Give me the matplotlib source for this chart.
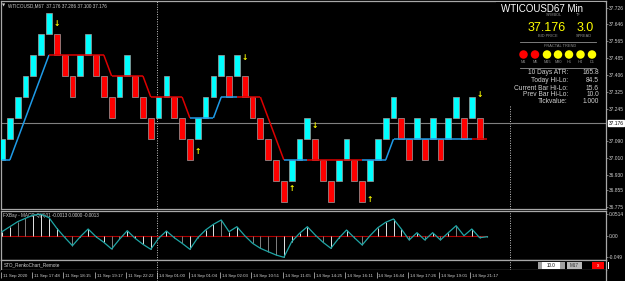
import matplotlib
matplotlib.use('Agg')
import matplotlib.pyplot as plt
from matplotlib.collections import LineCollection
from matplotlib.patches import Rectangle, Ellipse
import matplotlib.transforms as mtrans
import numpy as np

# ---------------- data ----------------
brick_low = [37.0, 37.1, 37.2, 37.3, 37.4, 37.5, 37.6, 37.5, 37.4, 37.3,
             37.4, 37.5, 37.4, 37.3, 37.2, 37.3, 37.4, 37.3, 37.2, 37.1,
             37.2, 37.3, 37.2, 37.1, 37.0, 37.1, 37.2, 37.3, 37.4, 37.3,
             37.4, 37.3, 37.2, 37.1, 37.0, 36.9, 36.8, 36.9, 37.0, 37.1,
             37.0, 36.9, 36.8, 36.9, 37.0, 36.9, 36.8, 36.9, 37.0, 37.1,
             37.2, 37.1, 37.0, 37.1, 37.0, 37.1, 37.0, 37.1, 37.2, 37.1,
             37.2, 37.1]
brick_up = [1, 1, 1, 1, 1, 1, 1, 0, 0, 0,
            1, 1, 0, 0, 0, 1, 1, 0, 0, 0,
            1, 1, 0, 0, 0, 1, 1, 1, 1, 0,
            1, 0, 0, 0, 0, 0, 0, 1, 1, 1,
            0, 0, 0, 1, 1, 0, 0, 1, 1, 1,
            1, 0, 0, 1, 0, 1, 0, 1, 1, 0,
            1, 0]
box_size = 0.1

trail = [37.0, 37.0, 37.1, 37.2, 37.3, 37.4,
         37.5, 37.5, 37.5, 37.5, 37.5, 37.5, 37.5, 37.5,
         37.4, 37.4, 37.4, 37.4, 37.4,
         37.3, 37.3, 37.3, 37.3, 37.3,
         37.2, 37.2, 37.2, 37.2,
         37.3, 37.3, 37.3, 37.3, 37.3, 37.3,
         37.2, 37.1,
         37.0, 37.0, 37.0, 37.0, 37.0, 37.0, 37.0, 37.0, 37.0, 37.0, 37.0, 37.0, 37.0, 37.0,
         37.1, 37.1, 37.1, 37.1, 37.1, 37.1, 37.1, 37.1, 37.1, 37.1, 37.1, 37.1, 37.1]
trail_up = [1] * 6 + [0] * 18 + [1] * 6 + [0] * 6 + [1] * 3 + [0] * 7 + [1] * 14 + [0] * 2

arrow_cols = [7, 25, 31, 37, 40, 47, 61]
arrow_price = [37.648, 37.04, 37.49, 36.862, 37.162, 36.814, 37.31]
arrow_down = [1, 0, 1, 0, 1, 0, 1]

macd = [0.0099, 0.0214, 0.0329, 0.0407, 0.0483, 0.0499, 0.0421, 0.0177, -0.0030, -0.0223,
        -0.0016, 0.0161, -0.0016, -0.0145, -0.0299, -0.0076, 0.0122, -0.0053, -0.0191, -0.0306,
        -0.0053, 0.0115, -0.0039, -0.0168, -0.0306, -0.0039, 0.0138, 0.0269, 0.0368, 0.0099,
        0.0214, 0.0007, -0.0168, -0.0283, -0.0361, -0.0437, -0.0490, -0.0131, 0.0062, 0.0214,
        0.0023, -0.0145, -0.0283, -0.0053, 0.0138, -0.0039, -0.0207, 0.0007, 0.0191, 0.0315,
        0.0391, 0.0161, -0.0092, 0.0076, -0.0092, 0.0076, -0.0092, 0.0076, 0.0237, 0.0007,
        0.0161, -0.0039, -0.0016]
hist_light = [1, 1, 0, 0, 1, 1, 1, 1, 0, 0,
              1, 1, 1, 1, 0, 0, 1, 1, 1, 1,
              0, 1, 0, 0, 1, 0, 1, 1, 0, 1,
              1, 0, 0, 0, 0, 0, 1, 1, 1, 1,
              0, 0, 1, 1, 1, 0, 0, 1, 1, 1,
              1, 1, 0, 1, 0, 1, 0, 1, 0, 1,
              1, 0, 0]

price_ticks = [37.726, 37.646, 37.565, 37.485, 37.406, 37.325, 37.245,
               37.090, 37.010, 36.930, 36.855, 36.775]
price_tick_labels = ['37.726', '37.646', '37.565', '37.485', '37.406', '37.325', '37.245',
                     '37.090', '37.010', '36.930', '36.855', '36.775']
last_price = 37.176
macd_ticks = [0.0514, 0.0, -0.049]
macd_tick_labels = ['0.0514', '0.00', '-0.049']

time_tick_cols = [0, 4, 8, 12, 16, 20, 24, 28, 32, 36, 40, 44, 48, 52, 56, 60]
time_labels = ['11 Sep 2020', '11 Sep 17:48', '11 Sep 18:15', '11 Sep 19:17', '11 Sep 22:22',
               '14 Sep 01:00', '14 Sep 01:04', '14 Sep 02:03', '14 Sep 10:51', '14 Sep 11:05',
               '14 Sep 14:25', '14 Sep 16:11', '14 Sep 16:44', '14 Sep 17:26', '14 Sep 19:01',
               '14 Sep 21:17']
separator_cols = [20, 65]

tf_names = ['M1', 'M5', 'M15', 'M30', 'H1', 'H4', 'D1']
tf_trend_up = [0, 0, 1, 1, 1, 1, 1]
info_labels = ['10 Days ATR:', 'Today Hi-Lo:', 'Current Bar Hi-Lo:', 'Prev Bar Hi-Lo:', 'Tickvalue:']
info_values = ['165.8', '84.5', '15.6', '10.0', '1.000']

# ---------------- layout ----------------
W, H = 625, 281
fig = plt.figure(figsize=(6.25, 2.81), dpi=100, facecolor='black')

plt.rcParams['font.family'] = ['Liberation Sans', 'DejaVu Sans']


def fx(px):
    return px / W


def fy(py):
    return 1 - py / H


def add_ax(l, t, r, b):
    return fig.add_axes([fx(l), fy(b), fx(r) - fx(l), fy(t) - fy(b)])


COL = 7.83
X0 = (1 - 2) / COL
X1 = (606 - 2) / COL
FRAME = '#a8a8a8'
TXT = '#d0d0d0'
FS = 3.3
FSA = 3.5

ax = add_ax(1, 1, 606, 209)
axm = add_ax(1, 211, 606, 260)
axs = add_ax(1, 260, 606, 270)
axt = add_ax(1, 270, 606, 281)

for a in (ax, axm, axs, axt):
    a.set_facecolor('black')
    a.set_xlim(X0, X1)
    a.set_xticks([])
    for s in a.spines.values():
        s.set_color(FRAME)
        s.set_linewidth(0.9)
axt.spines['left'].set_visible(False)
axt.spines['bottom'].set_visible(False)
axt.spines['top'].set_visible(False)
axt.set_ylim(0, 1)
axt.set_yticks([])
axs.set_yticks([])

# ---- main renko chart ----
n = np.arange(len(brick_low))
colors = ['#00ffff' if u else '#ff0000' for u in brick_up]
ax.bar(n, box_size, bottom=brick_low, width=0.74, color=colors,
       edgecolor='#a0a0a0', linewidth=0.5, zorder=3)
ax.set_ylim(37.2 - 91 / 210, 37.2 + 117 / 210)

tn = np.arange(len(trail))
pts = np.column_stack([tn, trail])
segs = [pts[i:i + 2] for i in range(len(trail) - 1)]
segcol = ['#1e9be8' if u else '#dd0000' for u in trail_up]
ax.add_collection(LineCollection(segs, colors=segcol, linewidths=1.1, zorder=4))

ax.axhline(last_price, color='#808080', lw=0.8, zorder=2)
for c in separator_cols:
    for a in (ax, axm, axs):
        a.axvline(c - 0.17, color='#c8c8c8', ls=(0, (1, 1.5)), lw=0.7, zorder=1)
axt.axvline(separator_cols[0] - 0.17, color='#c8c8c8', ls=(0, (1, 1.5)), lw=0.7)

for c, p, d in zip(arrow_cols, arrow_price, arrow_down):
    ax.text(c, p, '↓' if d else '↑', color='#ffff00', fontsize=5.5, fontweight='bold',
            ha='center', va='center', zorder=5, family='DejaVu Sans')

ax.yaxis.tick_right()
ax.set_yticks(price_ticks)
ax.set_yticklabels(price_tick_labels)
ax.tick_params(axis='y', colors=FRAME, labelcolor=TXT, labelsize=FSA, length=1.5, width=0.5, pad=0.6)
blend = mtrans.blended_transform_factory(ax.transAxes, ax.transData)
ax.text(1.004, last_price, '37.176', transform=blend, fontsize=FSA, color='black',
        va='center', ha='left', clip_on=False, zorder=6,
        bbox=dict(boxstyle='square,pad=0.15', fc='white', ec='white'))

# ---- MACD panel ----
mn = np.arange(len(macd))
axm.set_ylim(-24 / 435, 25 / 435)
axm.hlines(0, X0, mn[-1], color='#b00000', lw=0.8, zorder=2)
hcol = ['#e6e6e6' if h else '#808080' for h in hist_light]
axm.vlines(mn, 0, macd, colors=hcol, lw=0.7, zorder=3)
axm.plot(mn, macd, color='#1fa6a6', lw=0.9, zorder=4)
axm.yaxis.tick_right()
axm.set_yticks(macd_ticks)
axm.set_yticklabels(macd_tick_labels)
axm.tick_params(axis='y', colors=FRAME, labelcolor=TXT, labelsize=FSA, length=1.5, width=0.5, pad=0.6)
axm.text(0.004, 0.9, 'FXBay - MACD-Q(4)01 -0.0013 0.0000 -0.0013', transform=axm.transAxes,
         fontsize=FS, color=TXT, ha='left', va='center')

axs.text(0.004, 0.5, 'STO_RenkoChart_Remote', transform=axs.transAxes,
         fontsize=FS, color=TXT, ha='left', va='center')

# ---- time axis ----
for c, lab in zip(time_tick_cols, time_labels):
    x = c - 0.17
    axt.vlines(x, 0.25, 0.8, color=TXT, lw=0.5)
    axt.text(x + 0.25, 0.45, lab, fontsize=3.2, color=TXT, ha='left', va='center')

# ---- top-left caption ----
fig.text(fx(2), fy(5.5), '▼', fontsize=3, color=TXT, ha='left', va='center', family='DejaVu Sans')
fig.text(fx(8), fy(5.5), 'WTICOUSD,M67  37.176 37.286 37.100 37.176', fontsize=FS,
         color=TXT, ha='left', va='center')

# ---- info panel ----
fig.add_artist(Rectangle((fx(496), fy(106)), fx(604) - fx(496), fy(2) - fy(106),
                         transform=fig.transFigure, fc='black', ec='none', zorder=5))
fig.text(fx(583), fy(9), 'WTICOUSD67 Min', fontsize=7.0, color='white', ha='right',
         va='center', zorder=6)
fig.text(fx(554), fy(15.5), 'SYMBOL', fontsize=2.8, color='#909090', ha='center', va='center', zorder=6)
fig.text(fx(578), fy(15.5), 'TF', fontsize=2.8, color='#909090', ha='center', va='center', zorder=6)
fig.text(fx(547), fy(28), '37.176', fontsize=9, color='#ffff00', ha='center', va='center', zorder=6)
fig.text(fx(585), fy(28), '3.0', fontsize=9, color='#ffff00', ha='center', va='center', zorder=6)
fig.text(fx(548), fy(36), 'BID PRICE', fontsize=2.8, color='#909090', ha='center', va='center', zorder=6)
fig.text(fx(584), fy(36), 'SPREAD', fontsize=2.8, color='#909090', ha='center', va='center', zorder=6)
for yy in (42, 68):
    fig.add_artist(plt.Line2D([fx(520), fx(596)], [fy(yy), fy(yy)], color='#909090', lw=0.6, zorder=6))
fig.text(fx(560), fy(46), 'FRACTAL TREND', fontsize=2.8, color='#909090', ha='center', va='center', zorder=6)
cx = [523.5, 535, 547, 558, 569, 580.5, 592]
for x, name, up in zip(cx, tf_names, tf_trend_up):
    fig.add_artist(Ellipse((fx(x), fy(54.5)), 8.5 / W, 8.5 / H, transform=fig.transFigure,
                           fc='#ffff00' if up else '#ff0000', ec='none', zorder=6))
    fig.text(fx(x), fy(62), name, fontsize=2.8, color='#909090', ha='center', va='center', zorder=6)
rows = [73, 80.5, 88, 95, 102]
for yy, lab, val in zip(rows, info_labels, info_values):
    fig.text(fx(568), fy(yy), lab, fontsize=4.8, color=TXT, ha='right', va='center', zorder=6)
    fig.text(fx(599), fy(yy), val, fontsize=4.8, color=TXT, ha='right', va='center', zorder=6)

# ---- bottom-right widgets ----
def box(l, t, r, b, fc, ec='none'):
    fig.add_artist(Rectangle((fx(l), fy(b)), fx(r) - fx(l), fy(t) - fy(b),
                             transform=fig.transFigure, fc=fc, ec=ec, lw=0.5, zorder=6))

box(538, 262, 542, 269, '#a0a0a0')
box(542, 262, 560, 269, 'white')
box(560, 262, 565, 269, '#a0a0a0')
box(567, 262, 582, 269, '#b8b8b8')
box(592, 262, 604, 269, '#ff0000')
box(607.5, 262, 609, 269, 'white')
fig.text(fx(551), fy(265.5), '10.0', fontsize=FS, color='black', ha='center', va='center', zorder=7)
fig.text(fx(574.5), fy(265.5), 'M17', fontsize=FS, color='#303030', ha='center', va='center', zorder=7)
fig.text(fx(598), fy(265.5), 'x', fontsize=FS, color='white', ha='center', va='center', zorder=7)

fig.savefig('out.png', dpi=100, facecolor='black')
